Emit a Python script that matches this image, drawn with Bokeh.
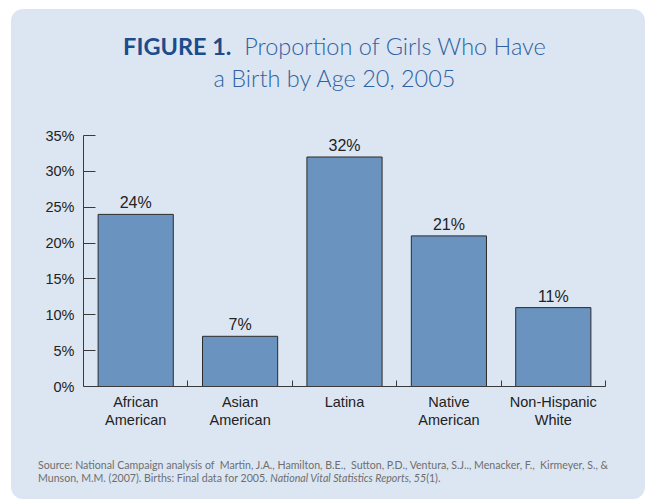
from bokeh.plotting import figure
from bokeh.models import ColumnDataSource, FixedTicker, PrintfTickFormatter, Div
from bokeh.layouts import column
from bokeh.embed import file_html
from bokeh.resources import INLINE
from bokeh.core.properties import value

# ---- data ----
categories = ["African\nAmerican", "Asian\nAmerican", "Latina", "Native\nAmerican", "Non-Hispanic\nWhite"]
values = [24, 7, 32, 21, 11]
value_labels = ["24%", "7%", "32%", "21%", "11%"]
y_ticks = [0, 5, 10, 15, 20, 25, 30, 35]

# ---- styles ----
PANEL = "#dce6f2"
BAR = "#6b93c0"
EDGE = "#2b2b2b"
AXIS = "#3a3a3a"
TXT = "#222222"
TITLE_BOLD = "#1b4c8b"
TITLE_REG = "#2f62a2"
SRC = "#6e6e6e"
AX_FONT = value("Liberation Sans")
W = 634

n = len(categories)
centers = [i + 0.5 for i in range(n)]
bounds = [i + 1 for i in range(n)]

src = ColumnDataSource(dict(x=centers, top=values, label=value_labels))

p = figure(width=W, height=341, x_range=(0, n), y_range=(0, 35),
           output_backend="svg", toolbar_location=None, margin=0,
           min_border_left=72, min_border_right=40, min_border_top=26, min_border_bottom=64,
           background_fill_color=PANEL, border_fill_color=PANEL, outline_line_color=None)
p.grid.visible = False

p.vbar(x="x", top="top", bottom=0, width=0.72, source=src,
       fill_color=BAR, line_color=EDGE, line_width=1)
p.text(x="x", y="top", text="label", source=src, text_align="center",
       text_baseline="bottom", y_offset=-3, text_font=AX_FONT,
       text_font_size="16px", text_color=TXT)

# x axis
xa = p.xaxis[0]
xa.ticker = FixedTicker(ticks=centers, minor_ticks=bounds)
xa.major_label_overrides = {c: lab for c, lab in zip(centers, categories)}
xa.major_tick_line_color = None
xa.minor_tick_in = 6
xa.minor_tick_out = 0
xa.minor_tick_line_color = AXIS
xa.axis_line_color = AXIS
xa.major_label_text_font = "Liberation Sans"
xa.major_label_text_font_size = "14.5px"
xa.major_label_text_color = TXT
xa.major_label_standoff = 1
xa.major_label_text_line_height = 1.17

# y axis
ya = p.yaxis[0]
ya.ticker = FixedTicker(ticks=y_ticks, minor_ticks=[])
ya.formatter = PrintfTickFormatter(format="%d%%")
ya.major_tick_in = 12
ya.major_tick_out = 0
ya.major_tick_line_color = AXIS
ya.minor_tick_line_color = None
ya.axis_line_color = AXIS
ya.major_label_text_font = "Liberation Sans"
ya.major_label_text_font_size = "14.5px"
ya.major_label_text_color = TXT
ya.major_label_standoff = 9

header = Div(width=W, height=100, margin=0, text=(
    f"<div style='font-family:Lato;font-weight:300;font-size:23.5px;line-height:32px;color:{TITLE_REG};"
    f"text-align:center;padding-top:21px;padding-left:13px;width:{W}px;box-sizing:border-box;'>"
    f"<span style='font-weight:bold;color:{TITLE_BOLD};'>FIGURE 1.</span>&nbsp; Proportion of Girls Who Have<br>"
    f"a Birth by Age 20, 2005</div>"))

footer = Div(width=W, height=49, margin=0, text=(
    f"<div style='font-family:Lato;font-size:10.6px;line-height:12.6px;color:{SRC};"
    f"padding-top:9px;padding-left:27px;white-space:nowrap;'>"
    "Source: National Campaign analysis of&nbsp; Martin, J.A., Hamilton, B.E.,&nbsp; Sutton, P.D., Ventura, S.J.., "
    "Menacker, F.,&nbsp; Kirmeyer, S., &amp;<br>"
    "Munson, M.M. (2007). Births: Final data for 2005. <i>National Vital Statistics Reports, 55</i>(1).</div>"))

layout = column(header, p, footer, width=W, height=490, margin=(9, 0, 0, 11), spacing=0,
                styles={"background-color": PANEL, "border-radius": "12px"})

open("out.html", "w").write(file_html(layout, INLINE))
